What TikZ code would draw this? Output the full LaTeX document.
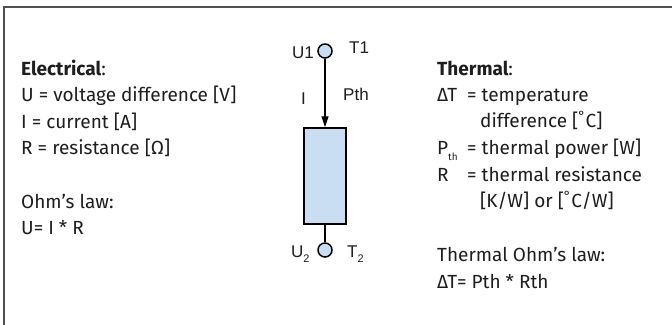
\documentclass[tikz,border=0pt]{standalone}
\usepackage{fontspec}
\setmainfont{Fira Sans}
\newfontfamily\labfont{Liberation Sans}
\usetikzlibrary{arrows.meta}
\definecolor{txt}{HTML}{1E1E1E}
\definecolor{fillblue}{HTML}{C9DDF3}
\definecolor{framec}{HTML}{505050}
\tikzset{
  x=1pt,y=-1pt,
  body/.style={anchor=base west,inner sep=0pt,text=txt,font=\fontsize{19}{23}\selectfont},
  clab/.style={anchor=base west,inner sep=0pt,text=txt,font=\labfont\fontsize{17}{20}\selectfont},
  term/.style={circle,draw=black,line width=1.5pt,fill=fillblue,minimum size=14pt,inner sep=0pt},
  resist/.style={rectangle,draw=black,line width=1.5pt,fill=fillblue,minimum width=42pt,minimum height=96pt,inner sep=0pt},
  wire/.style={draw=black,line width=1.2pt},
}
\begin{document}
\begin{tikzpicture}
\useasboundingbox (0,0) rectangle (672,324);
\fill[white] (0,0) rectangle (672,324);
\draw[framec,line width=1.5pt] (4,330) -- (4,7) -- (680,7);

% centre graph
\node[term] (c1) at (325,51) {};
\node[resist] (r) at (325,176) {};
\node[term] (c2) at (325,250) {};
\draw[wire,-{Triangle[length=11pt,width=7pt]}] (c1) -- (r);
\draw[wire] (r) -- (c2);

\node[clab] (u1) at (292,58) {U1};
\node[clab] (t1) at (349,53) {T1};
\node[clab] (i) at (301,104) {I};
\node[clab] (pth) at (343,100) {Pth};
\node[clab] (u2) at (291,257) {U\raisebox{-5pt}{\fontsize{11}{12}\selectfont 2}};
\node[clab] (t2) at (347,257) {T\raisebox{-5pt}{\fontsize{11}{12}\selectfont 2}};

% left column
\node[body] (e0) at (21,75) {\textbf{Electrical}:};
\node[body] (e1) at (21,101) {U = voltage difference [V]};
\node[body] (e2) at (21,128) {I = current [A]};
\node[body] (e3) at (21,154) {R = resistance [Ω]};
\node[body] (e4) at (21,208) {Ohm’s law:};
\node[body] (e5) at (21,234) {U= I * R};

% right column
\node[body] (t0) at (437,75) {\textbf{Thermal}:};
\node[body] (t1a) at (437,101) {ΔT};
\node[body] (t1b) at (467,101) {= temperature};
\node[body] (t2a) at (480,127) {difference [\textsuperscript{°}C]};
\node[body] (t3a) at (437,154) {P\raisebox{-6pt}{\fontsize{10}{11}\selectfont th}};
\node[body] (t3b) at (467,154) {= thermal power [W]};
\node[body] (t4a) at (437,181) {R};
\node[body] (t4b) at (467,181) {= thermal resistance};
\node[body] (t5a) at (480,207) {[K/W] or [\textsuperscript{°}C/W]};
\node[body] (t6) at (437,261) {Thermal Ohm’s law:};
\node[body] (t7) at (437,288) {ΔT= Pth * Rth};
\end{tikzpicture}
\end{document}
